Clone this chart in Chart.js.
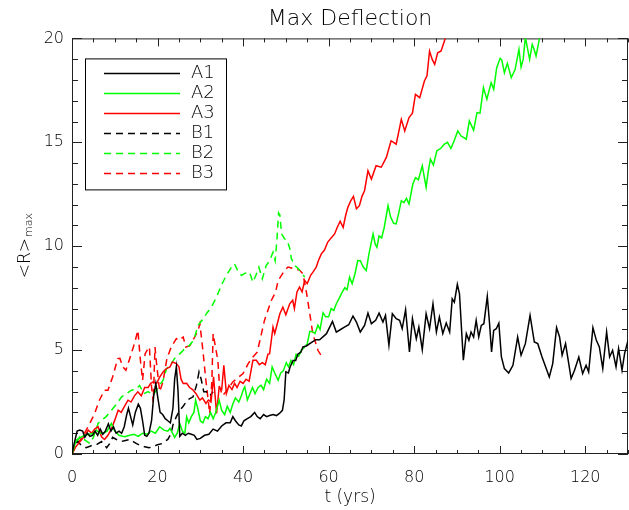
<!DOCTYPE html>
<html>
<head>
<meta charset="utf-8">
<title>Max Deflection</title>
<script src="https://cdn.jsdelivr.net/npm/chart.js@4.4.1/dist/chart.umd.min.js"></script>
<style>
  html, body { margin: 0; padding: 0; background: #fff; }
  #wrap { width: 629px; height: 510px; }
</style>
</head>
<body>
<div id="wrap"><canvas id="deflChart"></canvas></div>
<script>
// [t (yrs), <R>max]
const runA1 = [[0,0],[0.5,0.5],[1.2,1.1],[1.8,1.15],[2.5,1.1],[3.0,0.8],[3.6,1.0],[4.2,0.85],[4.8,0.9],[5.4,1.1],[6.0,0.9],[6.6,1.2],[7.2,0.95],[7.8,1.1],[8.5,1.45],[9.1,1.1],[9.7,1.3],[10.3,1.0],[11.0,1.1],[11.6,1.0],[12.2,1.3],[12.8,1.9],[13.2,2.2],[13.7,1.8],[14.2,1.4],[14.8,2.0],[15.5,2.4],[16.0,2.2],[16.5,1.6],[17.0,0.9],[17.5,0.85],[18.0,1.0],[18.6,1.6],[19.1,2.8],[19.6,3.4],[20.0,2.8],[20.6,2.0],[21.2,1.9],[21.8,1.7],[22.4,1.6],[23.0,1.5],[23.6,2.2],[24.0,3.6],[24.4,4.2],[24.8,3.0],[25.2,0.85],[25.8,1.0],[26.5,0.9],[27.2,1.0],[27.9,0.95],[28.6,0.9],[29.2,0.7],[30.0,0.75],[31.0,0.9],[32.0,0.95],[33.0,1.2],[34.0,1.1],[35.0,1.35],[36.0,1.5],[37.0,1.5],[37.6,1.8],[38.2,1.6],[39.0,1.4],[39.6,1.35],[40.2,1.6],[41.0,1.7],[41.8,1.8],[42.7,2.0],[43.3,1.8],[44.0,1.7],[44.8,1.9],[45.5,1.8],[46.2,1.85],[47.0,1.9],[47.8,1.85],[48.5,1.95],[49.2,2.1],[49.6,2.6],[50.0,3.95],[50.6,3.9],[51.0,4.2],[51.7,4.5],[52.3,4.5],[52.8,4.8],[53.5,4.9],[54.0,5.15],[54.8,5.2],[55.5,5.3],[56.2,5.4],[57.0,5.5],[57.9,5.5],
  [59.5,5.79],[60.9,6.38],[61.8,5.87],[62.7,5.98],[63.7,6.11],[64.7,6.22],[65.7,6.64],[66.5,6.35],[67.4,5.87],[68.4,6.19],[69.2,6.78],[70.0,6.27],[71.0,6.43],[71.8,6.78],[72.7,6.35],[73.3,6.67],[74.1,5.23],[74.9,6.75],[75.8,6.51],[76.6,6.43],[77.2,6.03],[78.0,6.94],[78.9,4.91],[79.6,6.51],[80.5,5.55],[81.1,6.11],[81.9,5.02],[82.8,6.75],[83.6,6.03],[84.4,7.23],[85.2,5.87],[85.9,6.59],[86.7,5.79],[87.5,6.30],[88.3,5.87],[88.9,7.47],[89.4,7.31],[90.1,8.16],[90.6,7.71],[91.5,4.51],[92.2,5.79],[92.8,5.47],[93.3,5.87],[93.9,5.63],[94.5,6.43],[95.1,5.63],[95.7,6.19],[96.3,6.27],[97.1,7.58],[97.6,6.35],[98.1,4.91],[98.6,5.95],[99.2,6.03],[99.8,6.30],[100.4,4.67],[101.1,4.11],[102.1,3.90],[103.1,4.27],[104.2,5.63],[105.0,4.75],[106.0,5.31],[107.1,6.67],[108.1,5.39],[108.9,5.31],[109.9,4.67],[111.6,3.71],[112.4,4.35],[113.3,6.08],[114.0,5.63],[114.6,4.75],[115.4,5.31],[116.7,3.63],[117.5,4.03],[118.5,4.67],[119.4,3.87],[120.2,4.27],[120.8,3.95],[121.8,6.08],[122.6,5.47],[123.3,5.15],[124.1,4.11],[125.0,5.87],[125.7,4.67],[126.4,4.99],[127.2,4.19],[127.8,5.07],[128.6,4.03],[129.2,4.83],[130,5.47]];

const runA2 = [[0,0],[1.0,0.67],[2.0,0.8],[3.0,0.9],[4.0,0.95],[5.0,1.0],[5.7,1.15],[6.5,1.0],[7.3,1.0],[8.2,1.1],[9.2,1.47],[10.0,1.1],[11.0,0.9],[12.3,0.83],[13.5,0.9],[14.5,0.95],[15.5,0.85],[16.5,1.0],[17.5,0.95],[18.5,1.1],[19.5,1.0],[20.5,1.31],[21.5,1.15],[22.4,1.1],[22.9,1.23],[23.5,1.0],[24.0,0.8],[24.6,1.0],[25.2,1.47],[25.8,1.1],[26.4,1.0],[26.8,1.79],[27.3,1.5],[27.9,1.8],[28.5,2.0],[28.9,2.59],[29.4,2.2],[30.0,1.6],[30.6,1.5],[31.2,1.8],[31.8,1.7],[32.4,2.0],[33.0,1.7],[33.6,2.0],[34.4,2.59],[35.0,2.1],[35.7,1.9],[36.3,2.3],[37.0,2.0],[37.6,2.4],[38.2,2.7],[39.0,2.5],[39.6,2.8],[40.0,3.07],[40.4,3.23],[41.0,2.6],[41.6,2.9],[42.2,3.2],[42.8,2.9],[43.5,3.2],[44.2,3.3],[44.8,3.1],[45.5,3.6],[46.2,3.4],[46.8,4.19],[47.4,3.9],[48.2,3.55],[48.8,3.9],[49.4,4.0],[50.1,4.4],[50.6,4.2],[51.2,4.5],[51.8,4.3],[52.4,4.8],[53.0,4.7],[53.6,5.0],[54.2,5.1],[55.0,5.3],[55.6,5.9],[56.2,5.9],[56.8,5.8],[57.5,6.2],[58.0,6.0],[58.7,6.8],[59.3,6.6],[60.0,6.6],[60.6,7.0],[61.2,6.9],[61.8,7.23],[62.5,7.5],[63.2,7.8],[63.8,8.0],[64.3,7.9],[64.9,8.51],[65.5,8.2],[66.2,8.7],[66.8,9.31],[67.4,9.3],[68.1,9.0],[68.8,8.83],[69.4,9.6],[70.0,10.2],[70.4,10.59],[70.9,10.1],[71.3,9.95],[71.8,10.5],[72.4,10.4],[73.0,10.9],[73.9,11.95],[74.5,11.4],[75.2,11.1],[75.8,11.07],[76.4,11.6],[77.0,12.19],[77.6,12.1],[78.2,12.3],[78.8,12.03],[79.7,12.99],[80.3,13.3],[81.0,13.2],[81.9,13.87],[82.8,12.83],[83.3,13.6],[83.8,14.19],[84.5,13.9],[85.3,14.59],[86.2,14.7],[87.0,14.9],[87.8,15.0],[88.6,14.7],[89.4,15.1],[90.2,15.55],[91.0,15.3],[92.2,15.15],[92.9,16.03],[93.9,15.58],[94.7,16.43],[95.4,16.4],[96.2,17.63],[97.0,17.07],[98.0,17.87],[98.6,17.55],[99.3,18.59],[100.1,19.04],[100.5,18.95],[101.1,18.35],[101.8,18.8],[102.7,18.11],[103.6,18.5],[104.5,19.47],[105.0,18.62],[105.5,19.0],[106.0,20.06],[107.0,18.99],[107.6,19.71],[108.0,19.5],[108.5,19.15],[109.3,20.0],[110.3,20.7]];

const runA3 = [[0,0],[0.7,0.3],[1.5,0.5],[2.2,0.67],[3.0,0.9],[3.8,1.15],[4.6,1.0],[5.3,1.2],[6.1,1.31],[6.9,0.83],[7.6,0.7],[8.4,0.9],[9.2,1.2],[10.0,1.63],[10.8,2.11],[11.5,2.0],[12.3,2.3],[13.1,2.59],[13.8,2.5],[14.6,2.8],[15.4,2.99],[16.2,2.8],[17.0,3.2],[17.8,3.2],[18.4,3.4],[19.0,3.47],[19.8,3.4],[20.5,3.7],[21.3,3.95],[22.0,4.1],[22.9,4.19],[23.5,4.43],[24.4,4.35],[25.0,4.2],[25.5,3.6],[26.0,3.39],[26.8,3.4],[27.5,3.2],[28.2,3.1],[29.0,2.9],[29.9,2.59],[30.5,2.7],[31.3,2.43],[31.9,2.6],[32.5,2.5],[33.1,3.71],[33.8,1.95],[34.4,3.2],[35.0,3.1],[35.5,4.27],[36.1,2.91],[36.7,3.3],[37.4,3.1],[38.0,3.4],[38.6,3.2],[39.3,3.5],[40.0,3.4],[40.7,3.6],[41.4,3.5],[42.3,4.51],[43.1,4.51],[43.8,4.3],[44.5,4.4],[45.2,4.3],[45.8,4.8],[46.2,4.83],[46.6,5.47],[47.0,6.11],[47.4,5.8],[47.8,6.11],[48.6,6.75],[49.3,7.07],[50.0,6.7],[50.9,7.23],[51.6,7.4],[52.0,7.0],[52.6,7.8],[53.2,8.03],[53.8,7.8],[54.4,8.35],[55.0,8.2],[55.8,8.6],[56.5,8.8],[57.1,8.99],[57.6,9.3],[58.3,9.63],[59.0,9.8],[59.8,10.2],[60.6,10.4],[61.4,10.59],[62.0,10.9],[62.7,11.2],[63.4,10.9],[64.0,11.5],[64.5,11.87],[65.2,12.2],[65.8,12.4],[66.5,11.8],[67.2,11.95],[67.8,12.4],[68.4,12.67],[69.2,13.63],[70.0,13.23],[71.1,13.87],[72.3,13.8],[73.5,14.27],[74.6,15.07],[75.2,15.0],[75.8,14.91],[77.0,16.11],[77.8,15.55],[78.8,16.19],[79.6,16.4],[80.3,17.31],[81.3,17.15],[82.4,17.95],[83.0,18.2],[83.6,19.39],[84.2,19.0],[84.8,18.75],[85.5,19.31],[86.3,19.4],[87.3,20.02],[87.8,20.6]];

const runB1 = [[0,0],[0.7,0.5],[1.4,0.6],[2.2,0.4],[3.3,0.3],[4.5,0.4],[5.7,0.45],[6.9,0.6],[8.1,0.3],[8.8,0.5],[9.5,0.8],[10.4,0.7],[11.5,0.6],[12.5,0.65],[13.5,0.7],[14.3,0.6],[15.1,0.5],[16.0,0.4],[17.0,0.35],[18.0,0.3],[19.0,0.35],[20.0,0.45],[21.0,0.5],[22.4,0.7],[23.2,1.0],[23.6,1.4],[24.4,1.8],[25.2,2.1],[26.0,2.3],[27.0,2.6],[28.3,2.75],[29.1,3.3],[29.7,3.95],[30.2,3.6],[30.8,3.0],[31.4,3.0],[32.2,2.8],[33.0,3.0]];

const runB2 = [[0,0],[0.7,0.4],[1.8,0.83],[2.8,0.7],[4.2,0.5],[5.0,0.8],[6.1,1.47],[6.9,1.63],[8.0,1.8],[9.2,2.1],[10.4,2.4],[11.6,2.75],[12.7,2.9],[13.9,3.07],[14.8,3.1],[15.8,3.3],[16.8,2.9],[17.8,3.0],[19.0,2.83],[20.1,3.2],[21.3,3.55],[22.1,4.1],[23.0,4.3],[24.0,4.6],[24.8,4.75],[25.6,4.9],[26.5,5.1],[27.5,5.23],[28.5,5.5],[29.5,6.2],[30.7,6.51],[31.6,6.8],[32.6,7.07],[33.8,7.55],[34.9,8.11],[36.1,8.6],[37.3,8.99],[38.0,9.15],[38.8,8.8],[39.6,8.59],[40.5,8.7],[41.5,8.75],[42.3,8.27],[43.0,8.6],[43.7,8.99],[44.5,8.43],[45.4,9.07],[46.2,9.3],[47.0,9.71],[47.5,9.3],[47.9,10.27],[48.3,11.6],[48.6,11.5],[49.0,10.6],[49.7,10.35],[50.3,10.3],[50.9,9.9],[51.3,9.4],[52.1,9.07],[53.0,8.9],[53.6,8.75],[54.4,8.51]];

const runB3 = [[0,0],[1.0,0.4],[2.0,0.7],[2.9,0.99],[4.0,1.4],[5.3,1.95],[6.4,2.59],[7.6,3.07],[8.4,3.07],[9.5,3.71],[10.7,4.59],[11.2,4.6],[11.9,4.19],[12.6,4.03],[13.5,4.6],[14.6,5.31],[15.4,5.95],[16.0,4.5],[16.5,3.55],[17.1,4.83],[17.6,5.0],[18.1,5.15],[18.6,3.23],[19.0,2.5],[19.4,5.15],[19.8,4.3],[20.5,3.0],[21.3,3.5],[22.2,4.6],[23.2,5.15],[24.4,5.55],[25.0,5.47],[26.0,5.63],[26.6,5.15],[27.5,5.2],[28.7,5.63],[29.5,5.95],[29.9,6.27],[30.6,4.99],[31.3,3.55],[32.2,1.95],[32.7,3.5],[33.0,5.79],[33.5,5.2],[34.1,4.51],[34.5,3.23],[35.2,2.8],[36.0,3.0],[37.6,3.47],[40.0,3.87],[41.2,4.35],[42.3,4.67],[43.3,4.9],[44.3,5.79],[45.0,6.43],[46.6,7.39],[47.6,7.79],[48.2,8.35],[49.7,8.83],[50.5,9.0],[52.1,8.91],[53.2,8.85],[54.0,8.67],[54.8,7.8],[55.6,6.75],[56.3,5.79],[57.5,4.99],[58.7,4.59]];

const seriesNames = ["A1", "A2", "A3", "B1", "B2", "B3"];
const xLabelTicks = [0, 20, 40, 60, 80, 100, 120];
const yLabelTicks = [0, 5, 10, 15, 20];

const FONT = "'DejaVu Sans', sans-serif";
const toPoints = (run) => run.map((p) => ({ x: p[0], y: p[1] }));

function mkSet(name, run, color, dashed) {
  return {
    label: name,
    data: toPoints(run),
    borderColor: color,
    backgroundColor: color,
    borderWidth: 1.5,
    borderDash: dashed ? [7, 5] : [],
    pointRadius: 0,
    tension: 0,
    fill: false,
  };
}

// IDL style box: ticks point inward on all four sides
const boxAxes = {
  id: "boxAxes",
  beforeDatasetsDraw(chart) {
    const { ctx, chartArea: a, scales } = chart;
    const x = scales.x, y = scales.y;
    ctx.save();
    ctx.strokeStyle = "#222";
    ctx.lineWidth = 1;
    ctx.strokeRect(a.left + 0.5, a.top + 0.5, a.right - a.left - 1, a.bottom - a.top - 1);
    ctx.beginPath();
    for (let v = 0; v <= 130; v += 5) {
      const px = Math.round(x.getPixelForValue(v)) + 0.5;
      const len = v % 20 === 0 ? 8 : 4;
      ctx.moveTo(px, a.bottom); ctx.lineTo(px, a.bottom - len);
      ctx.moveTo(px, a.top); ctx.lineTo(px, a.top + len);
    }
    for (let v = 0; v <= 20; v += 1) {
      const py = Math.round(y.getPixelForValue(v)) + 0.5;
      const len = v % 5 === 0 ? 10 : 6;
      ctx.moveTo(a.left, py); ctx.lineTo(a.left + len, py);
      ctx.moveTo(a.right, py); ctx.lineTo(a.right - len, py);
    }
    ctx.stroke();
    ctx.restore();
  },
};

// framed legend in the upper left and the rotated <R>max label
const boxLegend = {
  id: "boxLegend",
  afterDraw(chart) {
    const { ctx, chartArea: a } = chart;
    const left = a.left + 13, top = a.top + 20;
    ctx.save();
    ctx.fillStyle = "#fff";
    ctx.fillRect(left, top, 141, 131);
    ctx.strokeStyle = "#000";
    ctx.lineWidth = 1;
    ctx.strokeRect(left + 0.5, top + 0.5, 141, 131);
    ctx.font = "200 18px " + FONT;
    ctx.textBaseline = "middle";
    chart.data.datasets.forEach((ds, i) => {
      const yy = Math.round(top + 15 + 20 * i) + 0.5;
      ctx.beginPath();
      ctx.strokeStyle = ds.borderColor;
      ctx.lineWidth = 1.5;
      ctx.setLineDash(ds.borderDash);
      ctx.moveTo(left + 19, yy);
      ctx.lineTo(left + 95, yy);
      ctx.stroke();
      ctx.fillStyle = "#000";
      ctx.fillText(ds.label, left + 106, yy);
    });
    ctx.setLineDash([]);

    // y title with subscript
    const mid = (a.top + a.bottom) / 2;
    ctx.translate(30, mid);
    ctx.rotate(-Math.PI / 2);
    ctx.textBaseline = "alphabetic";
    ctx.font = "200 17px " + FONT;
    const w1 = ctx.measureText("<R>").width;
    ctx.font = "200 11px " + FONT;
    const w2 = ctx.measureText("max").width;
    const start = -(w1 + w2) / 2;
    ctx.font = "200 17px " + FONT;
    ctx.fillText("<R>", start, 0);
    ctx.font = "200 11px " + FONT;
    ctx.fillText("max", start + w1 + 1, 2);
    ctx.restore();
  },
};

const ctx = document.getElementById("deflChart").getContext("2d");
const deflChart = new Chart(ctx, {
  type: "line",
  data: {
    datasets: [
      mkSet(seriesNames[0], runA1, "#000000", false),
      mkSet(seriesNames[1], runA2, "#00ff00", false),
      mkSet(seriesNames[2], runA3, "#ff0000", false),
      mkSet(seriesNames[3], runB1, "#000000", true),
      mkSet(seriesNames[4], runB2, "#00ff00", true),
      mkSet(seriesNames[5], runB3, "#ff0000", true),
    ],
  },
  options: {
    responsive: true,
    maintainAspectRatio: false,
    animation: false,
    layout: { padding: { right: 1 } },
    plugins: {
      legend: { display: false },
      tooltip: { enabled: false },
      title: {
        display: true,
        text: "Max Deflection",
        fullSize: false,
        color: "#000",
        font: { family: FONT, size: 22, weight: 200 },
        padding: { top: 6, bottom: 6 },
      },
    },
    scales: {
      x: {
        type: "linear",
        min: 0,
        max: 130,
        grid: { display: false, drawTicks: false },
        border: { display: false },
        ticks: {
          stepSize: 5,
          autoSkip: false,
          maxRotation: 0,
          padding: 14,
          color: "#000",
          font: { family: FONT, size: 16, weight: 200 },
          callback: (v) => (xLabelTicks.includes(v) ? String(v) : ""),
        },
        title: {
          display: true,
          text: "t (yrs)",
          color: "#000",
          font: { family: FONT, size: 17, weight: 200 },
          padding: { top: 0, bottom: 2 },
        },
        afterFit: (s) => { s.height = 56; s.paddingLeft = 0; s.paddingRight = 0; },
      },
      y: {
        type: "linear",
        min: 0,
        max: 20,
        grid: { display: false, drawTicks: false },
        border: { display: false },
        ticks: {
          stepSize: 1,
          autoSkip: false,
          padding: 8,
          color: "#000",
          font: { family: FONT, size: 16, weight: 200 },
          callback: (v) => (yLabelTicks.includes(v) ? String(v) : ""),
        },
        afterFit: (s) => { s.width = 72; },
      },
    },
  },
  plugins: [boxAxes, boxLegend],
});
</script>
</body>
</html>
